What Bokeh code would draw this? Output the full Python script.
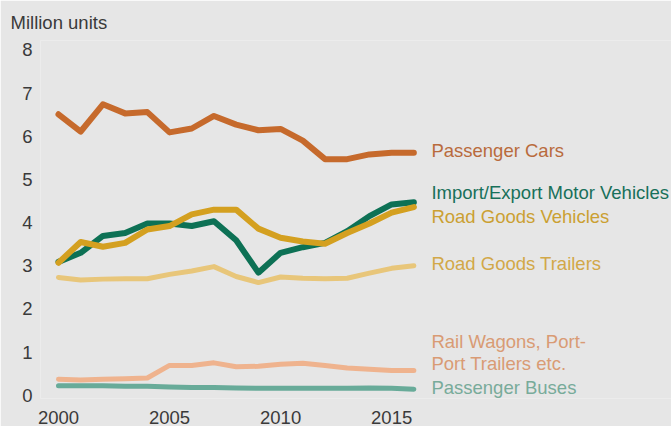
from bokeh.plotting import figure
from bokeh.models import Range1d, FixedTicker
from bokeh.embed import file_html
from bokeh.resources import INLINE
from bokeh.core.properties import value

years = list(range(2000, 2017))

passenger_cars = [6.51, 6.11, 6.74, 6.53, 6.56, 6.09, 6.18, 6.47, 6.27, 6.14, 6.17, 5.90, 5.47, 5.47, 5.58, 5.62, 5.62]
import_export = [3.09, 3.30, 3.69, 3.76, 3.98, 3.98, 3.92, 4.03, 3.59, 2.84, 3.30, 3.43, 3.53, 3.80, 4.15, 4.42, 4.47]
road_goods_vehicles = [3.07, 3.55, 3.44, 3.53, 3.84, 3.92, 4.19, 4.30, 4.30, 3.86, 3.65, 3.56, 3.51, 3.76, 3.98, 4.23, 4.36]
road_goods_trailers = [2.73, 2.67, 2.69, 2.70, 2.70, 2.80, 2.88, 2.98, 2.75, 2.61, 2.74, 2.71, 2.70, 2.71, 2.83, 2.94, 3.00]
rail_wagons = [0.37, 0.35, 0.37, 0.38, 0.40, 0.69, 0.69, 0.75, 0.66, 0.67, 0.72, 0.74, 0.69, 0.63, 0.60, 0.57, 0.57]
passenger_buses = [0.22, 0.22, 0.22, 0.21, 0.21, 0.19, 0.18, 0.18, 0.17, 0.16, 0.16, 0.16, 0.16, 0.16, 0.17, 0.16, 0.14]

series_names = ["Passenger Cars", "Import/Export Motor Vehicles", "Road Goods Vehicles",
                "Road Goods Trailers", "Rail Wagons, Port-\nPort Trailers etc.", "Passenger Buses"]
y_ticks = [0, 1, 2, 3, 4, 5, 6, 7, 8]
x_ticks = [2000, 2005, 2010, 2015]

BG = "#e6e6e6"
FONT = "Liberation Sans"
FS = "18.5px"

p = figure(width=671, height=426, output_backend="svg", toolbar_location=None,
           x_range=Range1d(1999.19, 2027.60), y_range=Range1d(-0.076, 8.219),
           min_border_left=40, min_border_right=0, min_border_top=40, min_border_bottom=26,
           background_fill_color=BG, border_fill_color=BG, outline_line_color=None,
           title="Million units")

p.title.text_font = FONT
p.title.text_font_size = FS
p.title.text_font_style = "normal"
p.title.text_color = "#3a3a3a"
p.title.align = "left"
p.title.offset = -30
p.title.standoff = 15

p.grid.visible = False
for ax in (p.xaxis[0], p.yaxis[0]):
    ax.axis_line_color = None
    ax.major_tick_line_color = None
    ax.minor_tick_line_color = None
    ax.major_tick_out = 0
    ax.major_tick_in = 0
    ax.minor_tick_out = 0
    ax.major_label_text_font = FONT
    ax.major_label_text_font_size = FS
    ax.major_label_text_color = "#3a3a3a"
p.yaxis[0].ticker = FixedTicker(ticks=y_ticks)
p.xaxis[0].ticker = FixedTicker(ticks=x_ticks)
p.yaxis[0].major_label_standoff = 8
p.xaxis[0].major_label_standoff = 12

def draw(vals, color, w):
    p.line(years, vals, line_color=color, line_width=w, line_join="round", line_cap="round")

draw(road_goods_trailers, "#e8c67a", 5)
draw(rail_wagons, "#efb38e", 5)
draw(passenger_buses, "#68ab99", 5)
draw(passenger_cars, "#c66a2c", 6)
draw(import_export, "#0d7155", 6)
draw(road_goods_vehicles, "#d4a020", 6)

label_colors = ["#b96b3d", "#18705a", "#cba032", "#d2a848", "#d99b74", "#78ab9a"]
label_y = [5.66, 4.70, 4.13, 3.06, 0.99, 0.17]
label_x = 2016.79
for name, col, ly in zip(series_names, label_colors, label_y):
    lines = name.split("\n")
    for i, ln in enumerate(lines):
        yy = ly + (len(lines) - 1) / 2 * 0.52 - i * 0.52
        p.text(x=[label_x], y=[yy], text=[ln], text_color=col, text_font=value(FONT),
               text_font_size=FS, text_baseline="middle", text_align="left")

open("out.html", "w").write(file_html(p, INLINE))
